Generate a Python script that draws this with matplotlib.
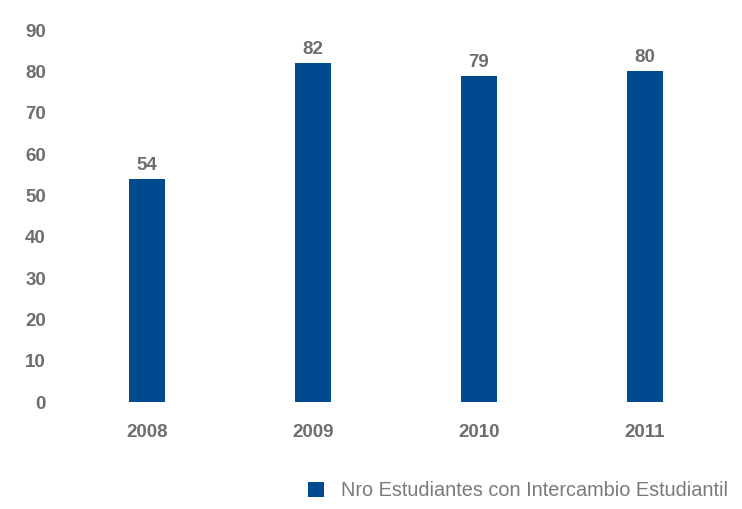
import matplotlib.pyplot as plt

years = ["2008", "2009", "2010", "2011"]
estudiantes = [54, 82, 79, 80]
yticks = [0, 10, 20, 30, 40, 50, 60, 70, 80, 90]

plt.rcParams["font.family"] = ["Liberation Sans", "DejaVu Sans"]

azul = "#004b8f"
gris = "#6e6e6e"

fig = plt.figure(figsize=(7.42, 5.09), dpi=100)
ax = fig.add_axes([0.0863, 0.21, 0.8948, 0.731])

x = range(len(years))
bars = ax.bar(x, estudiantes, width=0.22, color=azul, label="Nro Estudiantes con Intercambio Estudiantil")
for xi, v in zip(x, estudiantes):
    ax.text(xi, v + 1.2, str(v), ha="center", va="bottom", fontsize=13.5, fontweight="bold", color=gris)

ax.set_xlim(-0.5, 3.5)
ax.set_ylim(0, 90)
ax.set_yticks(yticks)
ax.set_xticks(list(x))
ax.set_xticklabels(years)
ax.tick_params(length=0, labelsize=13.5, labelcolor=gris)
ax.tick_params(axis="y", pad=13)
ax.tick_params(axis="x", pad=16)
for lab in ax.get_xticklabels() + ax.get_yticklabels():
    lab.set_fontweight("bold")
for s in ax.spines.values():
    s.set_visible(False)

leg = fig.legend(handles=[bars], loc="lower right", bbox_to_anchor=(1.0, -0.01), frameon=False,
                 fontsize=14.3, handlelength=0.8, handleheight=0.8, handletextpad=0.85, borderaxespad=0.3)
for t in leg.get_texts():
    t.set_color("#7a7a7a")

fig.savefig("out.png")
